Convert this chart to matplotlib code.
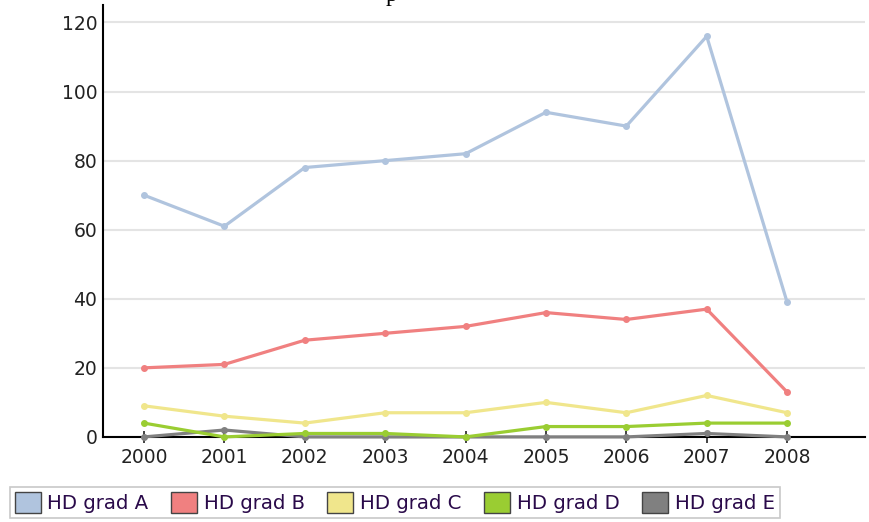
import matplotlib
matplotlib.use("Agg")
import matplotlib.pyplot as plt
from matplotlib.patches import Patch

years = [2000, 2001, 2002, 2003, 2004, 2005, 2006, 2007, 2008]
grad_a = [70, 61, 78, 80, 82, 94, 90, 116, 39]
grad_b = [20, 21, 28, 30, 32, 36, 34, 37, 13]
grad_c = [9, 6, 4, 7, 7, 10, 7, 12, 7]
grad_d = [4, 0, 1, 1, 0, 3, 3, 4, 4]
grad_e = [0, 2, 0, 0, 0, 0, 0, 1, 0]
labels = ['HD grad A', 'HD grad B', 'HD grad C', 'HD grad D', 'HD grad E']
colors = ['#b0c4de', '#f08080', '#f0e68c', '#9acd32', '#808080']

plt.rcParams['font.family'] = ['DejaVu Sans']

fig = plt.figure(figsize=(8.69, 5.22), dpi=100)
ax = fig.add_axes([0.1185, 0.163, 0.877, 0.827])

series = [grad_a, grad_b, grad_c, grad_d, grad_e]
for vals, col in reversed(list(zip(series, colors))):
    ax.plot(years, vals, color=col, lw=2.3, marker='o', ms=4, mec=col, clip_on=False, zorder=3)

ax.set_xlim(1999.49, 2008.97)
ax.set_ylim(0, 125)
ax.set_yticks(range(0, 121, 20))
ax.set_xticks(years)
ax.grid(axis='y', color='#e4e4e4', lw=1.5)
ax.set_axisbelow(True)
for s in ['top', 'right']:
    ax.spines[s].set_visible(False)
ax.spines['left'].set_linewidth(1.5)
ax.spines['bottom'].set_linewidth(1.5)
ax.tick_params(axis='y', length=0, pad=4, labelsize=13.5, colors='#222222')
ax.tick_params(axis='x', direction='inout', length=8, width=1.2, pad=4, labelsize=13.5, colors='#222222')

# title mostly cut off above the top edge, only the descender shows
fig.text(0.451, 0.998, 'p', family='Liberation Serif', fontsize=17, ha='center', va='baseline')

handles = [Patch(facecolor=c, edgecolor='#444444', lw=1) for c in colors]
leg = fig.legend(handles, labels, loc='upper left', bbox_to_anchor=(0.0115, 0.067), ncol=5,
                 fontsize=14.2, frameon=True, fancybox=False, edgecolor='#bbbbbb',
                 handlelength=1.3, handleheight=1.3, handletextpad=0.35, columnspacing=1.15,
                 borderpad=0.25, borderaxespad=0)
leg.get_frame().set_linewidth(1.2)
for t in leg.get_texts():
    t.set_color('#2a0a4a')

fig.savefig('out.png', dpi=100)
